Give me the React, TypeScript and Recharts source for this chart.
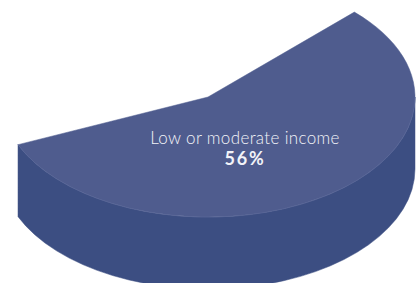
import React from 'react';
import { PieChart, Pie, Cell } from 'recharts';

const categories = ['Low or moderate income', 'Other'];
const values = [56, 44];
const shownSlices = ['Low or moderate income'];

const data = categories.map((name, i) => ({ name, value: values[i] }));

const TOP = '#4f5c8e';
const SIDE = '#3c4e82';
const RIM = '#5a6798';
const TEXT = '#f2f3f8';
const TILT = 0.58;
const DEPTH = 72;
const RAD = Math.PI / 180;

const pt = (cx: number, cy: number, rx: number, ry: number, deg: number) =>
  [cx + rx * Math.cos(deg * RAD), cy - ry * Math.sin(deg * RAD)];

const renderSlice = (props: any) => {
  const { cx, cy, outerRadius, startAngle, endAngle, name, percent } = props;
  if (!shownSlices.includes(name)) return null;
  const rx = outerRadius;
  const ry = outerRadius * TILT;
  const hi = Math.max(startAngle, endAngle);
  const lo = Math.min(startAngle, endAngle);
  const [sx, sy] = pt(cx, cy, rx, ry, hi);
  const [ex, ey] = pt(cx, cy, rx, ry, lo);
  const large = hi - lo > 180 ? 1 : 0;
  const top = `M${cx},${cy} L${sx},${sy} A${rx},${ry} 0 ${large} 1 ${ex},${ey} Z`;

  const walls: string[] = [];
  const rims: string[] = [];
  for (let k = -1; k <= 1; k++) {
    const a = Math.max(lo, -180 + 360 * k);
    const b = Math.min(hi, 360 * k);
    if (b > a) {
      const [bx, by] = pt(cx, cy, rx, ry, b);
      const [ax, ay] = pt(cx, cy, rx, ry, a);
      walls.push(
        `M${bx},${by} A${rx},${ry} 0 0 1 ${ax},${ay} L${ax},${ay + DEPTH} A${rx},${ry} 0 0 0 ${bx},${by + DEPTH} Z`
      );
      rims.push(`M${bx},${by} A${rx},${ry} 0 0 1 ${ax},${ay}`);
    }
  }

  return (
    <g>
      {walls.map((d, i) => (
        <path key={'w' + i} d={d} fill={SIDE} stroke={SIDE} strokeWidth={0.5} />
      ))}
      <path d={top} fill={TOP} stroke={TOP} strokeWidth={0.5} />
      {rims.map((d, i) => (
        <path key={'r' + i} d={d} fill="none" stroke={RIM} strokeWidth={0.7} />
      ))}
      <text
        x={cx + 37}
        y={cy + 47}
        textAnchor="middle"
        fill={TEXT}
        fontFamily="Lato, 'Open Sans', sans-serif"
        fontSize={17}
        fontWeight={300}
        letterSpacing={0.35}
      >
        {name}
      </text>
      <text
        x={cx + 37}
        y={cy + 68}
        textAnchor="middle"
        fill={TEXT}
        fontFamily="Lato, 'Open Sans', sans-serif"
        fontSize={18}
        fontWeight={700}
        letterSpacing={1.8}
      >
        {`${Math.round(percent * 100)}%`}
      </text>
    </g>
  );
};

export default function App() {
  return (
    <div style={{ position: 'absolute', left: 0, top: 0, width: 419, height: 283, background: '#ffffff' }}>
      <PieChart width={419} height={283} margin={{ top: 0, right: 0, bottom: 0, left: 0 }}>
        <Pie
          data={data}
          dataKey="value"
          nameKey="name"
          cx={208}
          cy={97}
          innerRadius={0}
          outerRadius={207}
          startAngle={45}
          endAngle={-315}
          stroke="none"
          isAnimationActive={false}
          labelLine={false}
          label={renderSlice}
        >
          {data.map((d) => (
            <Cell key={d.name} fill="none" stroke="none" />
          ))}
        </Pie>
      </PieChart>
    </div>
  );
}
